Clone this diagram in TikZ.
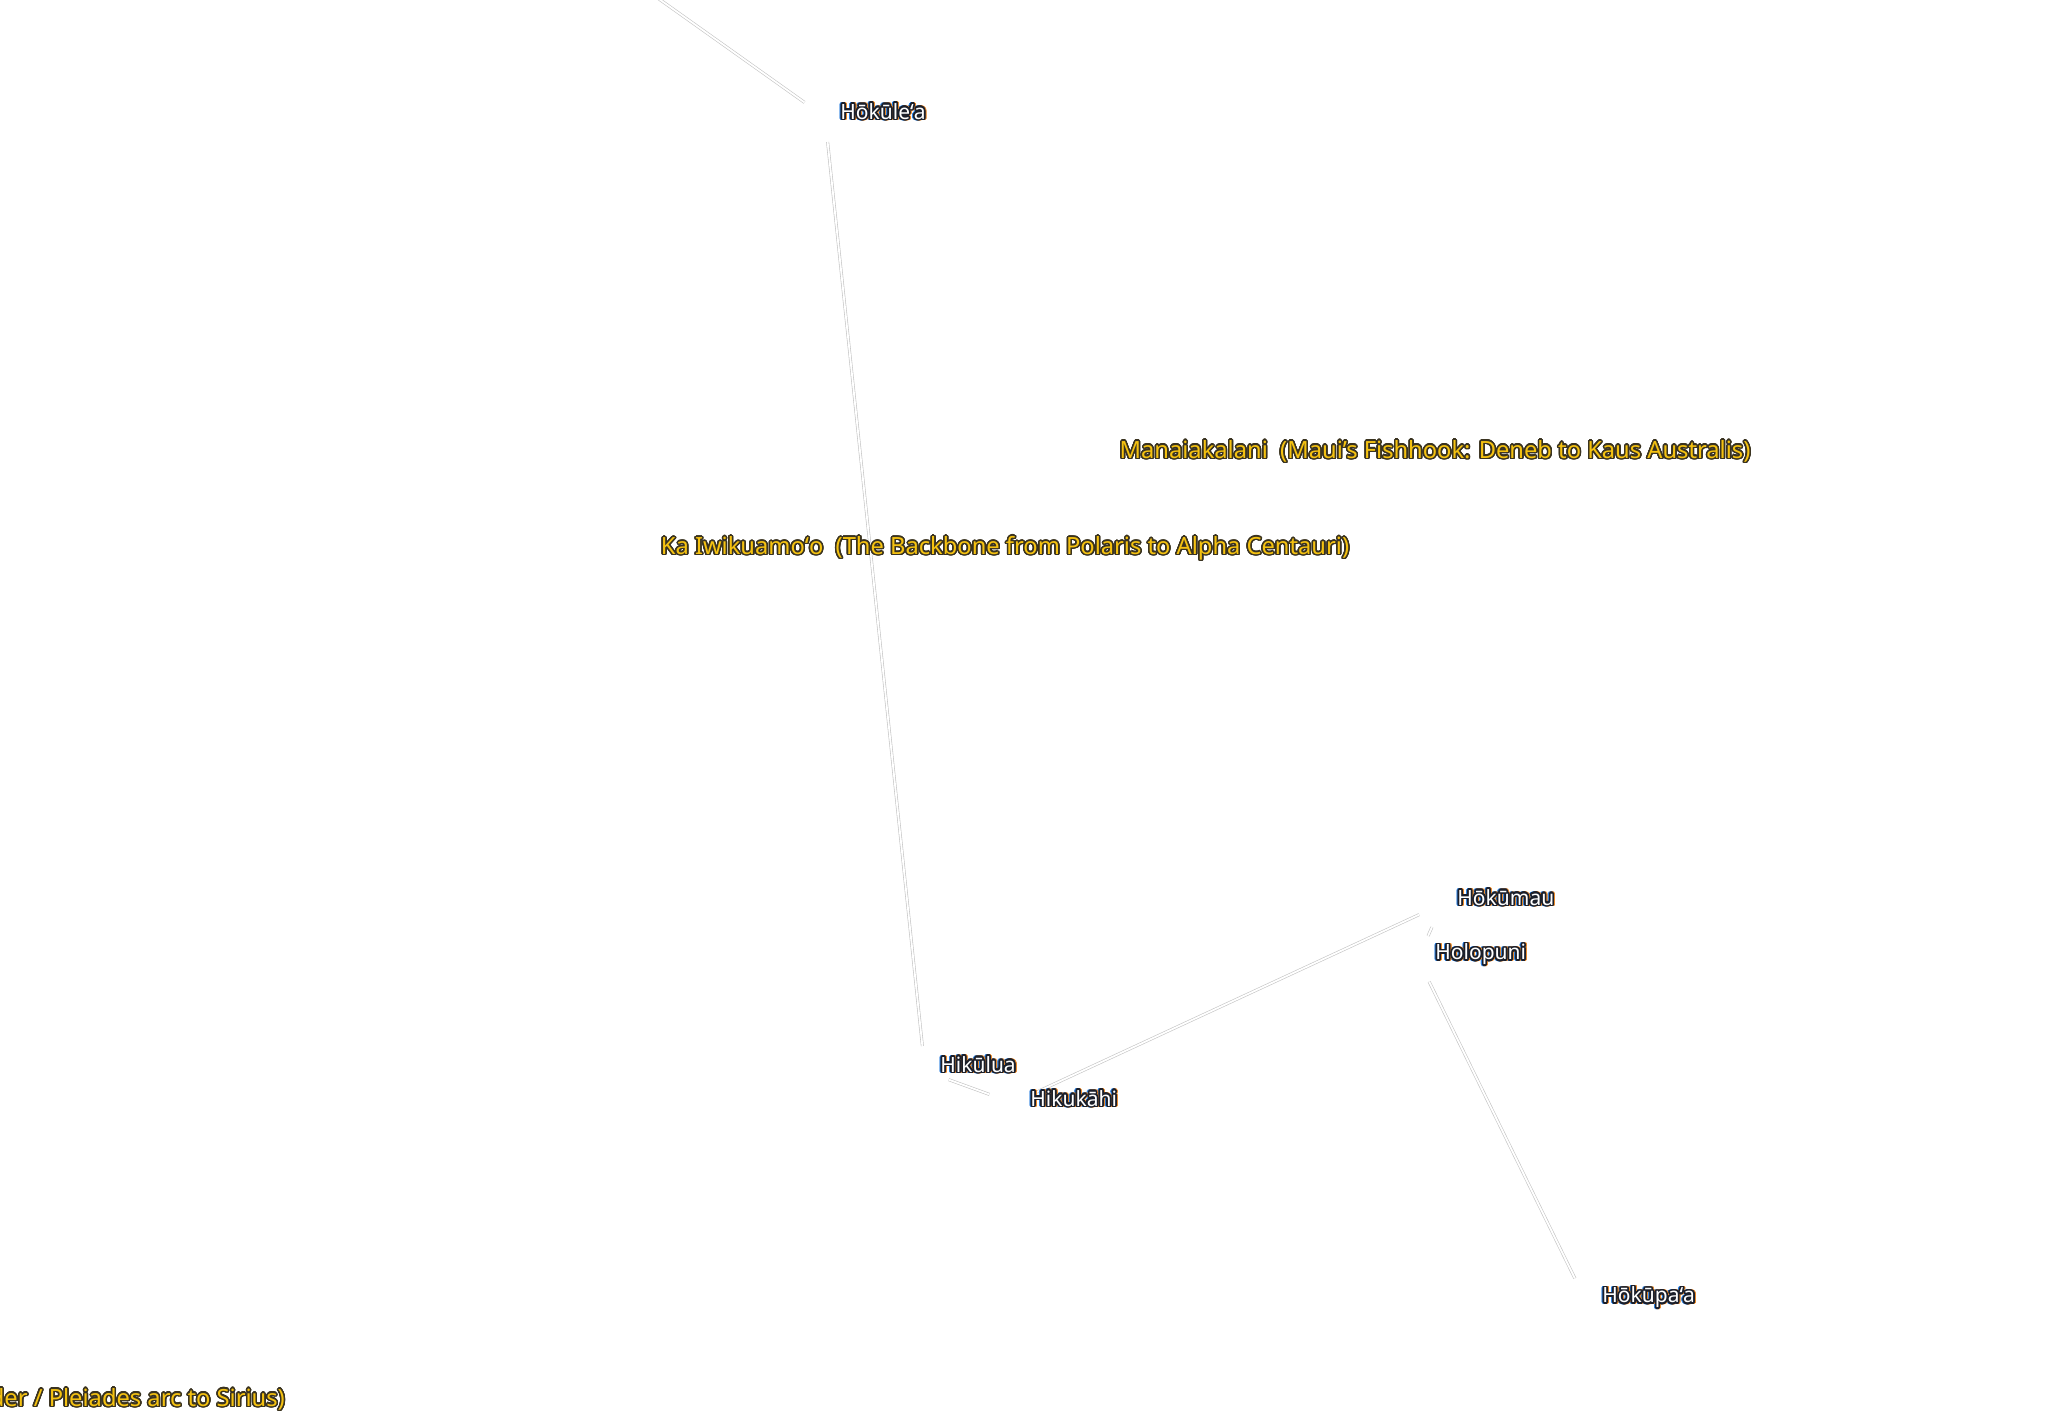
\documentclass[tikz,border=0pt]{standalone}
\usepackage{fontspec}
\setmainfont{Noto Sans}
\usepackage{xcolor}
\usepackage{contour}
\usetikzlibrary{positioning}
\contourlength{1.5pt}
\contournumber{24}
\definecolor{edgedark}{HTML}{1B1F2A}
\definecolor{glowblue}{HTML}{2A7FE0}
\definecolor{gloworange}{HTML}{E8892A}
\definecolor{asterism}{HTML}{F5C211}
\definecolor{asterismedge}{HTML}{3A3320}
\definecolor{linkedge}{HTML}{C4C4C4}

\newcommand{\glowname}[1]{%
  \makebox[0pt][l]{\kern-1.1pt\contour{glowblue}{\textcolor{glowblue}{#1}}}%
  \makebox[0pt][l]{\kern1.1pt\contour{gloworange}{\textcolor{gloworange}{#1}}}%
  \contour{edgedark}{\textcolor{white}{#1}}}
\newcommand{\asterismtext}[1]{\contour{asterismedge}{\textcolor{asterism}{#1}}}

\begin{document}
\begin{tikzpicture}[x=1pt,y=-1pt,
		star/.style={circle,inner sep=0pt,minimum size=50pt},
		starname/.style={inner sep=0pt,font=\bfseries\fontsize{21}{25}\selectfont},
		asterismname/.style={inner sep=0pt,font=\bfseries\fontsize{23.7}{28}\selectfont},
		link/.style={draw=linkedge,line width=0.6pt,double=white,double distance=1.8pt}]
			\fill[white] (0,0) rectangle (2072,1411);
			\useasboundingbox (0,0) rectangle (2072,1411);
			\clip (0,0) rectangle (2072,1411);

			% stars
			\node[star] (hokulea) at (825,117) {};
			\node[star] (hikulua) at (925,1071) {};
			\node[star] (hikukahi) at (1013,1103) {};
			\node[star] (hokumau) at (1442,904) {};
			\node[star] (holopuni) at (1418,959) {};
			\node[star] (hokupaa) at (1586,1301) {};
			\coordinate (offtop) at (576,-60);

			\draw[link] (offtop) -- (hokulea);
			\draw[link] (hokulea) -- (hikulua);
			\draw[link] (hikulua) -- (hikukahi);
			\draw[link] (hikukahi) -- (hokumau);
			\draw[link] (hokumau) -- (holopuni);
			\draw[link] (holopuni) -- (hokupaa);

			% star names
			\node[starname] (hokulea-name) [right=-10pt of hokulea,yshift=5pt] {\glowname{Hōkūleʻa}};
			\node[starname] (hikulua-name) [right=-10pt of hikulua,yshift=6pt] {\glowname{Hikūlua}};
			\node[starname] (hikukahi-name) [right=-8pt of hikukahi,yshift=4pt] {\glowname{Hikukāhi}};
			\node[starname] (hokumau-name) [right=-10pt of hokumau,yshift=6pt] {\glowname{Hōkūmau}};
			\node[starname] (holopuni-name) [right=-8pt of holopuni,yshift=4pt] {\glowname{Holopuni}};
			\node[starname] (hokupaa-name) [right=-9pt of hokupaa,yshift=3pt] {\glowname{Hōkūpaʻa}};

			% asterism names
			\node[asterismname] (manaiakalani) at (1435,452) {\asterismtext{Manaiakalani\ \ (Maui’s Fishhook: Deneb to Kaus Australis)}};
			\node[asterismname] (iwikuamoo) at (1005,549) {\asterismtext{Ka Iwikuamoʻo\ \ (The Backbone from Polaris to Alpha Centauri)}};
			\node[asterismname,anchor=east] (ladder) at (285,1400) {\asterismtext{Ladder / Pleiades arc to Sirius)}};
\end{tikzpicture}
\end{document}
